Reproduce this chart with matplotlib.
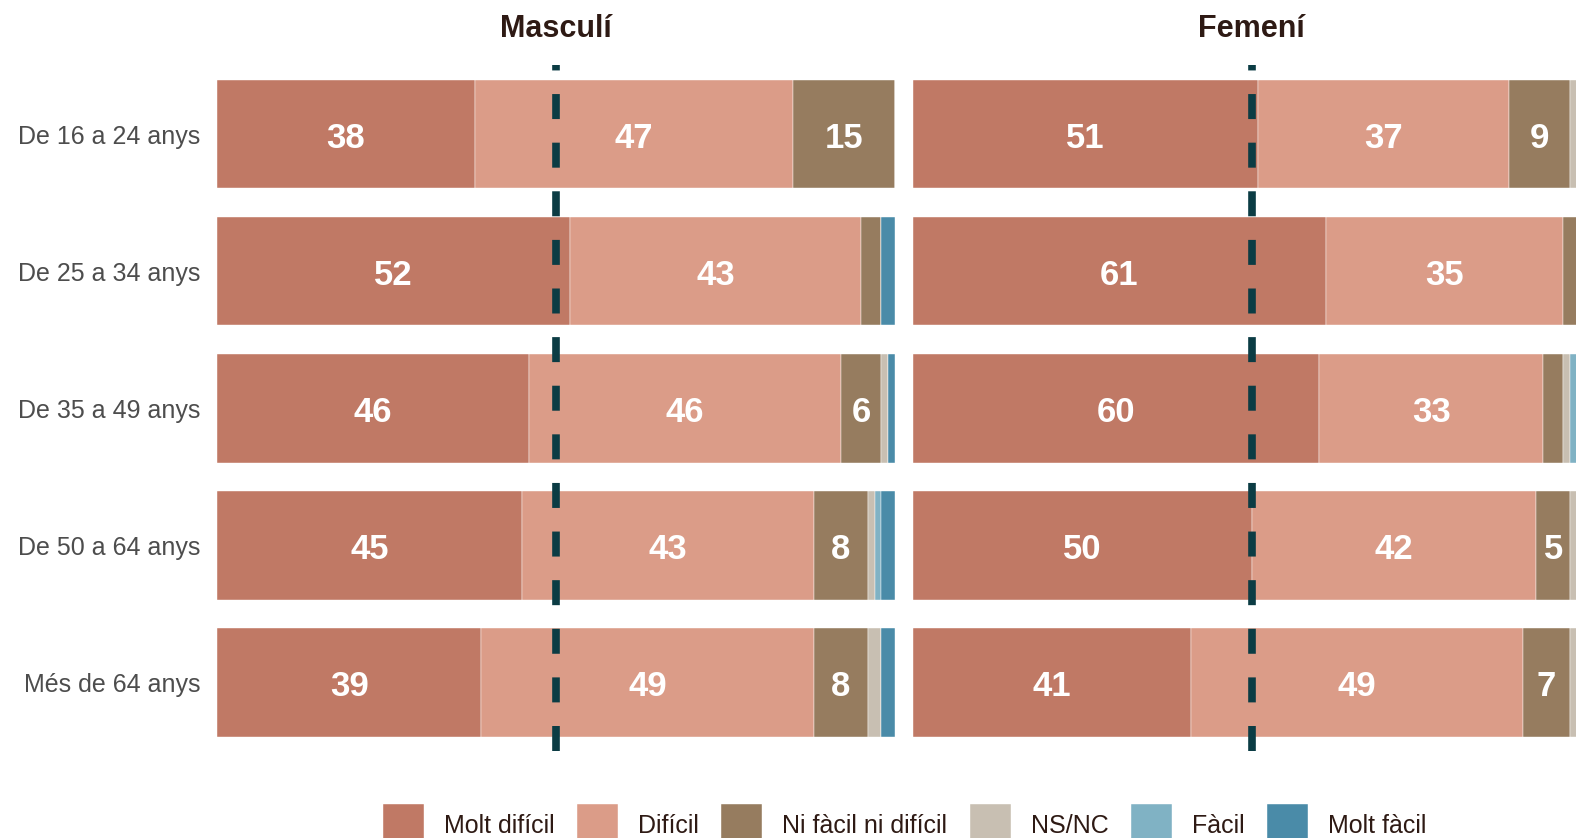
import numpy as np
import matplotlib
matplotlib.use("Agg")
import matplotlib.pyplot as plt

plt.rcParams['font.family'] = ['Liberation Sans', 'DejaVu Sans']
plt.rcParams['lines.scale_dashes'] = False

ages = ["De 16 a 24 anys", "De 25 a 34 anys", "De 35 a 49 anys",
        "De 50 a 64 anys", "Més de 64 anys"]
cats = ["Molt difícil", "Difícil", "Ni fàcil ni difícil", "NS/NC", "Fàcil", "Molt fàcil"]
colors = ["#C07965", "#DB9C88", "#967C5F", "#C8BFB2", "#80B2C4", "#4A8BA8"]

# percentages per age group, one list per answer
masc_molt_dificil = [38, 52, 46, 45, 39]
masc_dificil = [47, 43, 46, 43, 49]
masc_ni = [15, 3, 6, 8, 8]
masc_nsnc = [0, 0, 1, 1, 2]
masc_facil = [0, 0, 0, 1, 0]
masc_molt_facil = [0, 2, 1, 2, 2]

fem_molt_dificil = [51, 61, 60, 50, 41]
fem_dificil = [37, 35, 33, 42, 49]
fem_ni = [9, 2, 3, 5, 7]
fem_nsnc = [1, 0, 1, 1, 1]
fem_facil = [1, 0, 1, 1, 0]
fem_molt_facil = [1, 2, 2, 1, 2]

masc = [masc_molt_dificil, masc_dificil, masc_ni, masc_nsnc, masc_facil, masc_molt_facil]
fem = [fem_molt_dificil, fem_dificil, fem_ni, fem_nsnc, fem_facil, fem_molt_facil]

fig = plt.figure(figsize=(15.76, 8.38), dpi=100)
ax1 = fig.add_axes([217/1576, 0.1038, 678/1576, 0.8186])
ax2 = fig.add_axes([912.6/1576, 0.1038, 678/1576, 0.8186])

y = np.arange(len(ages))
title_col = "#2E1A14"

for ax, data, title in [(ax1, masc, "Masculí"), (ax2, fem, "Femení")]:
    left = np.zeros(len(ages))
    for vals, c, name in zip(data, colors, cats):
        vals = np.array(vals, dtype=float)
        ax.barh(y, vals, left=left, height=0.79, color=c, label=name,
                edgecolor="white", linewidth=0.3)
        for yi, v, l in zip(y, vals, left):
            if v >= 5:
                ax.text(l + v / 2, yi + 0.03, f"{v:.0f}", ha="center", va="center",
                        color="white", fontsize=25, fontweight="bold")
        left += vals
    ax.axvline(50, color="#0B3C44", linewidth=5.5, dashes=(18, 17), zorder=5)
    ax.set_xlim(0, 100)
    ax.set_ylim(4.5, -0.505)
    ax.set_title(title, fontsize=22, fontweight="bold", color=title_col, pad=20)
    ax.set_xticks([])
    for s in ax.spines.values():
        s.set_visible(False)

ax1.set_yticks(y)
ax1.set_yticklabels(ages, fontsize=18, color="#4D4D4D")
ax1.tick_params(axis="y", length=0, pad=12)
ax2.set_yticks([])

handles, labels = ax1.get_legend_handles_labels()
fig.legend(handles, labels, loc="center", bbox_to_anchor=(0.574, 0.0155),
           ncol=6, frameon=False, fontsize=18, handlelength=1.64,
           handleheight=2.15, handletextpad=0.8, columnspacing=0.9,
           borderpad=0, labelcolor=title_col)

fig.savefig("out.png", dpi=100)
